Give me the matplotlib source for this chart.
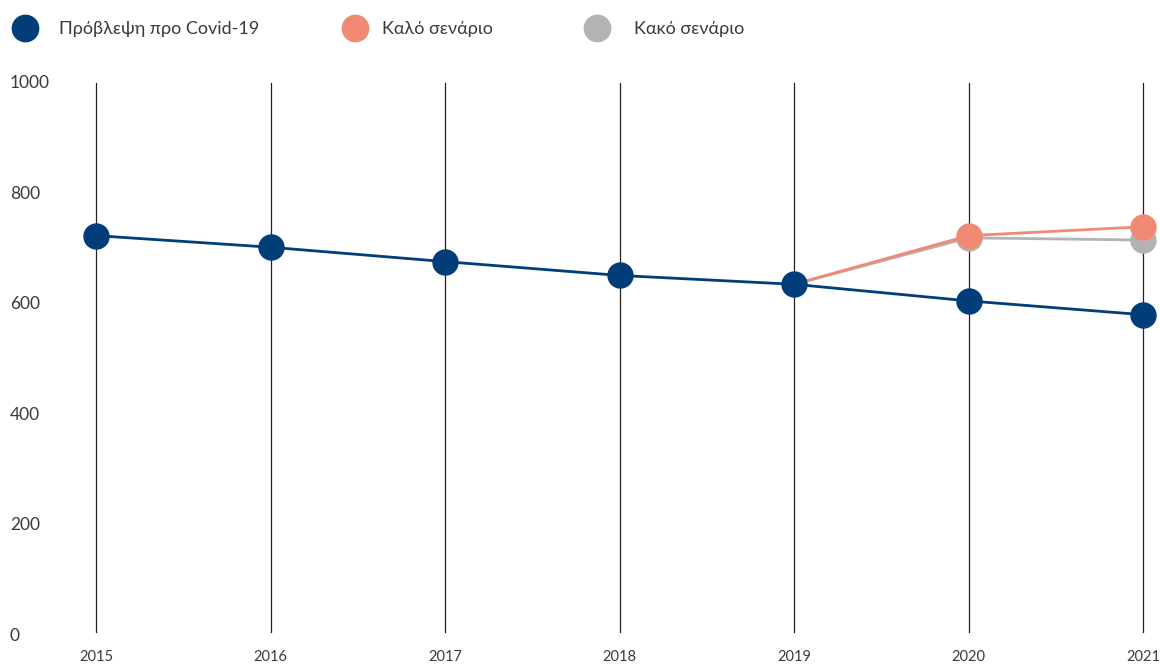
import matplotlib
matplotlib.use("Agg")
import matplotlib.pyplot as plt
import matplotlib.transforms as mtransforms
from matplotlib.lines import Line2D
import numpy as np

years = [2015, 2016, 2017, 2018, 2019, 2020, 2021]
pre_covid = [724, 703, 677, 652, 636, 606, 581]
scen_years = [2019, 2020, 2021]
good = [636, 724, 740]
bad = [636, 720, 716]
y_ticks = [0, 200, 400, 600, 800, 1000]
series_names = ["Πρόβλεψη προ Covid-19", "Καλό σενάριο", "Κακό σενάριο"]

c_blue = "#003d79"
c_good = "#f08a75"
c_bad = "#b3b3b3"
txt = "#3a3a3a"

plt.rcParams['font.family'] = ['Lato', 'DejaVu Sans']

fig = plt.figure(figsize=(11.6, 6.64), dpi=100)
ax = fig.add_axes([96/1160, 1-636/664, (1143-96)/1160, (636-83)/664])
ax.set_xlim(2015, 2021)
ax.set_ylim(0, 1000)
for s in ax.spines.values():
    s.set_visible(False)
ax.set_xticks([]); ax.set_yticks([])

for yr in years:
    ax.axvline(yr, ymin=0.007, ymax=1, color="#222222", lw=0.9, zorder=1, clip_on=False)

ax.plot(scen_years, bad, color=c_bad, lw=2, zorder=2, clip_on=False)
ax.plot(scen_years[1:], bad[1:], 'o', color=c_bad, ms=19, mew=0, zorder=3, clip_on=False)
ax.plot(scen_years, good, color=c_good, lw=2, zorder=4, clip_on=False)
ax.plot(scen_years[1:], good[1:], 'o', color=c_good, ms=19, mew=0, zorder=5, clip_on=False)
ax.plot(years, pre_covid, color=c_blue, lw=2, zorder=6, clip_on=False)
ax.plot(years, pre_covid, 'o', color=c_blue, ms=19, mew=0, zorder=7, clip_on=False)

# y tick labels, left-aligned at figure x=10px
tr = mtransforms.blended_transform_factory(fig.transFigure, ax.transData)
for t in y_ticks:
    ax.text(10/1160, t, str(t), transform=tr, ha='left', va='center',
            fontsize=12.5, color=txt, clip_on=False)

# x tick labels
trx = mtransforms.blended_transform_factory(ax.transData, fig.transFigure)
for yr in years:
    ax.text(yr, 1-657/664, str(yr), transform=trx, ha='center', va='center',
            fontsize=10.5, color=txt, clip_on=False)

# legend
leg_cols = [c_blue, c_good, c_bad]
leg_mx = [25, 355, 597]
leg_tx = [59, 382, 634]
for name, col, mx, tx in zip(series_names, leg_cols, leg_mx, leg_tx):
    fig.add_artist(Line2D([mx/1160], [1-28/664], marker='o', ms=20, mew=0,
                          color=col, transform=fig.transFigure))
    fig.text(tx/1160, 1-29/664, name, ha='left', va='center', fontsize=13, color=txt)

fig.savefig("out.png", dpi=100)
